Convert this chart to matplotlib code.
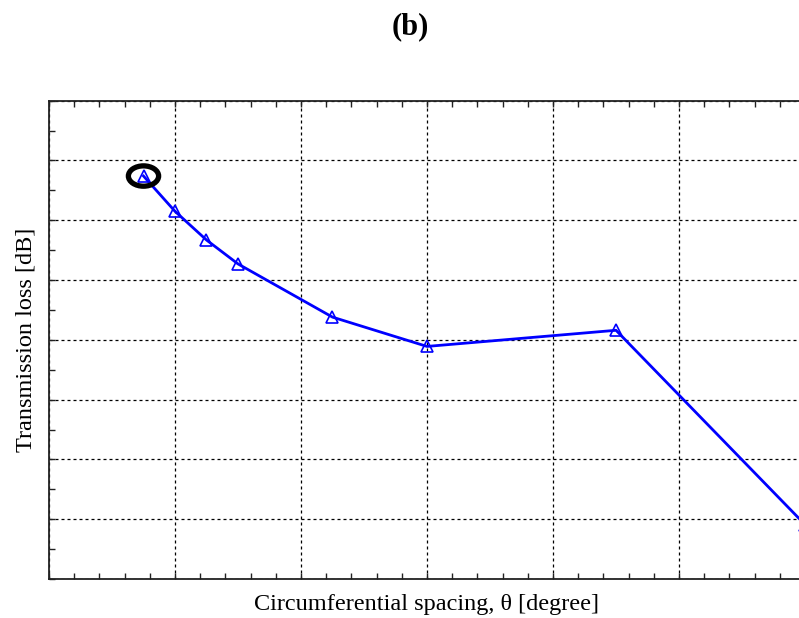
import matplotlib
matplotlib.use("Agg")
import matplotlib.pyplot as plt
from matplotlib.patches import Ellipse
from matplotlib.ticker import MultipleLocator

# Circumferential spacing [degree] and transmission loss [dB]
spacing_deg = [7.5, 10.0, 12.5, 15.0, 22.5, 30.0, 45.0, 60.0]
loss_db = [43.7, 40.75, 38.35, 36.35, 31.9, 29.45, 30.8, 14.55]

plt.rcParams["font.family"] = ["Liberation Serif", "DejaVu Serif"]

fig = plt.figure(figsize=(7.99, 6.18), dpi=100)
ax = fig.add_axes([49 / 799, 1 - 579 / 618, 756 / 799, (579 - 100.7) / 618])

ax.plot(spacing_deg, loss_db, color=(0, 0, 1), lw=2.0, marker="^",
        markersize=8.5, markerfacecolor="none", markeredgecolor=(0, 0, 1),
        markeredgewidth=1.2, clip_on=True, zorder=3)

# Highlight the first configuration
ax.add_patch(Ellipse((spacing_deg[0], loss_db[0]), width=2.4, height=1.7,
                     fill=False, edgecolor="black", lw=3.8, zorder=4))

ax.set_xlim(0, 60)
ax.set_ylim(10, 50)
ax.xaxis.set_major_locator(MultipleLocator(10))
ax.xaxis.set_minor_locator(MultipleLocator(2))
ax.yaxis.set_major_locator(MultipleLocator(5))
ax.yaxis.set_minor_locator(MultipleLocator(2.5))

ax.grid(True, which="major", color="black", linestyle=(0, (2.4, 2.4)), lw=0.9)
ax.tick_params(which="both", direction="in", top=True, right=True,
               labelbottom=False, labelleft=False, color="#222222")
ax.tick_params(which="major", length=4, width=1.0)
ax.tick_params(which="minor", length=4, width=1.0)
for s in ax.spines.values():
    s.set_linewidth(1.3)
    s.set_color("#222222")

ax.set_xlabel("Circumferential spacing, θ [degree]", fontsize=17.5, labelpad=11)
ax.set_ylabel("Transmission loss [dB]", fontsize=17.5, labelpad=9)
fig.text(410 / 799, 1 - 27 / 618, "(b)", ha="center", va="center",
         fontsize=22, fontweight="bold")

fig.savefig("out.png", dpi=100)
